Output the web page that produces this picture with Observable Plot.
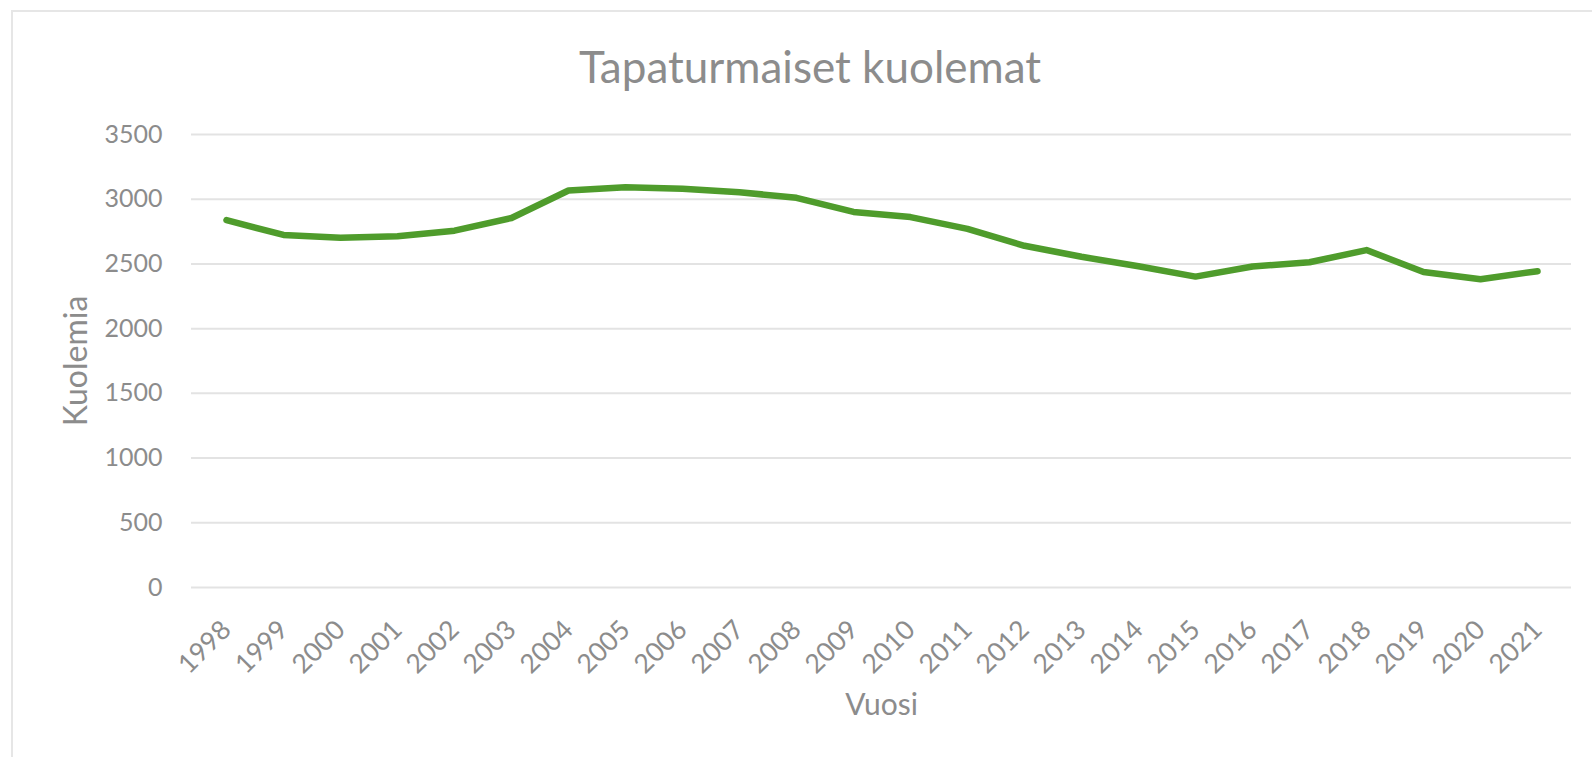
<!DOCTYPE html>
<html>
<head>
<meta charset="utf-8">
<script src="https://cdn.jsdelivr.net/npm/d3@7"></script>
<script src="https://cdn.jsdelivr.net/npm/@observablehq/plot@0.6"></script>
<style>
  html, body { margin: 0; padding: 0; background: #fff; }
  #wrap { position: relative; width: 1592px; height: 757px; overflow: hidden; background: #fff; }
  #frame { position: absolute; left: 11px; top: 10px; width: 1700px; height: 900px; border: 2px solid #e6e6e6; box-sizing: border-box; }
  #title { position: absolute; top: 36px; left: 810px; transform: translateX(-50%); white-space: nowrap;
           font-family: Lato, sans-serif; font-size: 44px; color: #8c8c8c; line-height: 60px; }
  #chart { position: absolute; left: 0; top: 100px; }
</style>
</head>
<body>
<div id="wrap">
  <div id="frame"></div>
  <div id="title"></div>
  <div id="chart"></div>
</div>
<script>
const titleText = "Tapaturmaiset kuolemat";
const xLabel = "Vuosi";
const yLabel = "Kuolemia";
const years = ["1998","1999","2000","2001","2002","2003","2004","2005","2006","2007","2008","2009","2010","2011","2012","2013","2014","2015","2016","2017","2018","2019","2020","2021"];
const deaths = [2838, 2724, 2702, 2714, 2757, 2855, 3067, 3092, 3081, 3054, 3011, 2902, 2862, 2771, 2640, 2555, 2482, 2402, 2480, 2513, 2607, 2438, 2382, 2444];
const yTicks = [0, 500, 1000, 1500, 2000, 2500, 3000, 3500];

const data = years.map((y, i) => ({year: y, value: deaths[i]}));
const grey = "#8c8c8c";

const chart = Plot.plot({
  width: 1592,
  height: 657,
  marginTop: 34,
  marginBottom: 170,
  marginLeft: 191,
  marginRight: 21,
  style: { fontFamily: "Lato, sans-serif", background: "transparent", color: grey, overflow: "visible" },
  x: { type: "point", domain: years, padding: 0.5 },
  y: { domain: [0, 3500] },
  marks: [
    Plot.gridY(yTicks, { stroke: "#e3e3e3", strokeOpacity: 1, strokeWidth: 2 }),
    Plot.axisY(yTicks, {
      tickSize: 0, tickPadding: 29, fontSize: 25, fill: grey, tickFormat: d => String(d), label: null
    }),
    Plot.axisY(yTicks, {
      tickSize: 0, tickFormat: () => "", fontSize: 32, fill: grey,
      label: yLabel, labelAnchor: "center", labelOffset: 127, labelArrow: "none"
    }),
    Plot.axisX({
      tickSize: 0, tickPadding: 38, dx: 0, tickRotate: -45, fontSize: 26.5, fill: grey, label: null
    }),
    Plot.axisX({
      tickSize: 0, tickFormat: () => "", fontSize: 30, fill: grey,
      label: xLabel, labelAnchor: "center", labelOffset: 127, labelArrow: "none"
    }),
    Plot.line(data, { x: "year", y: "value", stroke: "#4f9c2c", strokeWidth: 6.5, strokeLinejoin: "round", strokeLinecap: "round" })
  ]
});
document.getElementById("title").textContent = titleText;
document.getElementById("chart").appendChild(chart);
</script>
</body>
</html>
